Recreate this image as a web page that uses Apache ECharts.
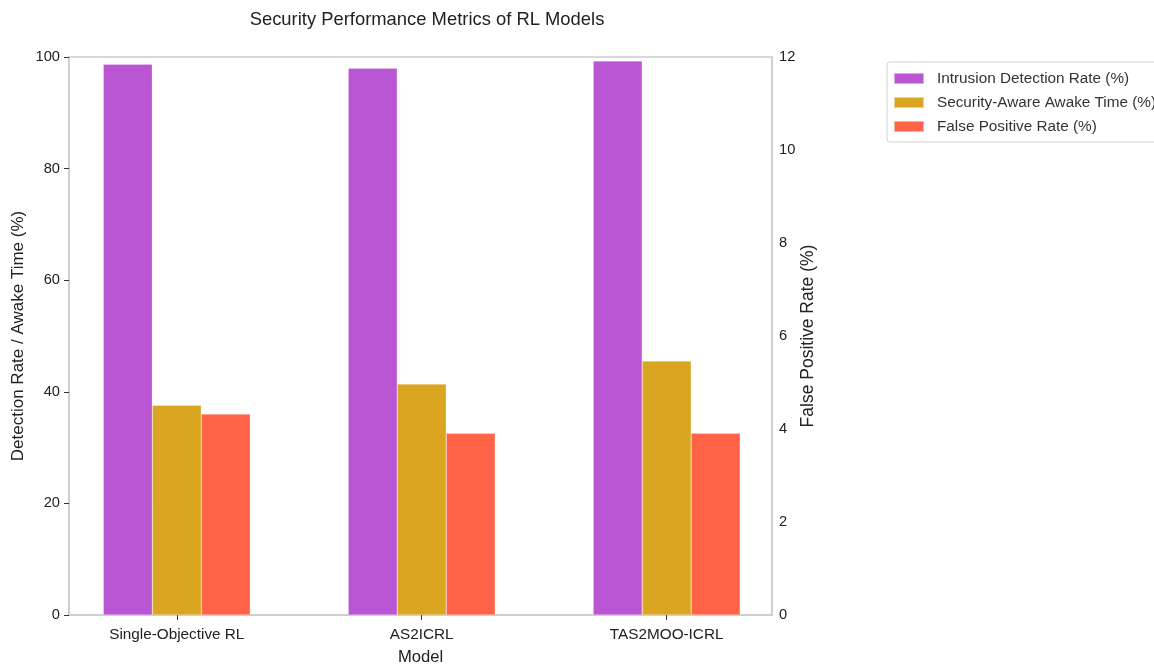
<!DOCTYPE html>
<html>
<head>
<meta charset="utf-8">
<script src="https://cdn.jsdelivr.net/npm/echarts@6/dist/echarts.min.js"></script>
<style>html,body{margin:0;padding:0;background:#fff}#c{width:1154px;height:664px}</style>
</head>
<body>
<div id="c"></div>
<script>
const categories = ['Single-Objective RL', 'AS2ICRL', 'TAS2MOO-ICRL'];
const intrusionDetection = [98.7, 98.0, 99.3];
const awakeTime = [37.6, 41.4, 45.5];
const falsePositive = [4.32, 3.91, 3.91];
const seriesNames = ['Intrusion Detection Rate (%)', 'Security-Aware Awake Time (%)', 'False Positive Rate (%)'];

const font = 'Liberation Sans, Arial, sans-serif';
const toPts = arr => arr.map((v, i) => [i, v]);

const chart = echarts.init(document.getElementById('c'), null, {renderer: 'canvas'});
chart.setOption({
  animation: false,
  textStyle: {fontFamily: font},
  title: {
    text: 'Security Performance Metrics of RL Models',
    left: 422, top: 6, textAlign: 'center',
    textStyle: {fontSize: 18.4, fontWeight: 'normal', color: '#222', fontFamily: font}
  },
  legend: {
    orient: 'vertical', left: 887, top: 62,
    itemWidth: 30, itemHeight: 11, itemGap: 9,
    padding: [9, 10, 8, 6],
    borderColor: '#d0d0d0', borderWidth: 1, borderRadius: 3,
    textStyle: {fontSize: 15.3, color: '#333', fontFamily: font, padding: [0, 0, 0, 8]},
    data: seriesNames,
    icon: 'rect'
  },
  grid: {
    left: 69, right: 382, top: 57, bottom: 49,
    outerBoundsMode: 'none',
    show: true, borderColor: '#cccccc', borderWidth: 1.5, backgroundColor: 'transparent'
  },
  xAxis: {
    type: 'value', min: -0.44, max: 2.43,
    name: 'Model', nameLocation: 'middle', nameGap: 34, nameMoveOverlap: false,
    nameTextStyle: {fontSize: 16.6, color: '#222'},
    axisLine: {show: true, onZero: false, lineStyle: {color: '#cccccc', width: 1.5}},
    axisTick: {show: true, customValues: [0, 1, 2], length: 5, lineStyle: {color: '#333'}},
    axisLabel: {customValues: [0, 1, 2], fontSize: 15.3, color: '#222', margin: 12,
      formatter: v => categories[Math.round(v)] || ''},
    splitLine: {show: false}
  },
  yAxis: [
    {
      type: 'value', min: 0, max: 100, interval: 20,
      name: 'Detection Rate / Awake Time (%)', nameLocation: 'middle', nameGap: 42, nameMoveOverlap: false,
      nameTextStyle: {fontSize: 17, color: '#222'},
      axisLine: {show: true, onZero: false, lineStyle: {color: '#cccccc', width: 1.5}},
      axisTick: {show: true, length: 5, lineStyle: {color: '#333'}},
      axisLabel: {fontSize: 14.7, color: '#222', margin: 9},
      splitLine: {show: false}
    },
    {
      type: 'value', min: 0, max: 12, interval: 2,
      name: 'False Positive Rate (%)', nameLocation: 'middle', nameGap: 27, nameRotate: 90, nameMoveOverlap: false,
      nameTextStyle: {fontSize: 17.5, color: '#222'},
      axisLine: {show: true, onZero: false, lineStyle: {color: '#cccccc', width: 1.5}},
      axisTick: {show: false},
      axisLabel: {fontSize: 14.7, color: '#222', margin: 7},
      splitLine: {show: false}
    }
  ],
  series: [
    {name: seriesNames[0], type: 'bar', yAxisIndex: 0, barWidth: 49, barGap: '0%',
      itemStyle: {color: '#BA55D3', borderColor: 'rgba(255,255,255,0.5)', borderWidth: 0.5},
      data: toPts(intrusionDetection)},
    {name: seriesNames[1], type: 'bar', yAxisIndex: 0, barWidth: 49, barGap: '0%',
      itemStyle: {color: '#DAA520', borderColor: 'rgba(255,255,255,0.5)', borderWidth: 0.5},
      data: toPts(awakeTime)},
    {name: seriesNames[2], type: 'bar', yAxisIndex: 1, barWidth: 49, barGap: '0%',
      itemStyle: {color: '#FF6347', borderColor: 'rgba(255,255,255,0.5)', borderWidth: 0.5},
      data: toPts(falsePositive)}
  ]
});
</script>
</body>
</html>
